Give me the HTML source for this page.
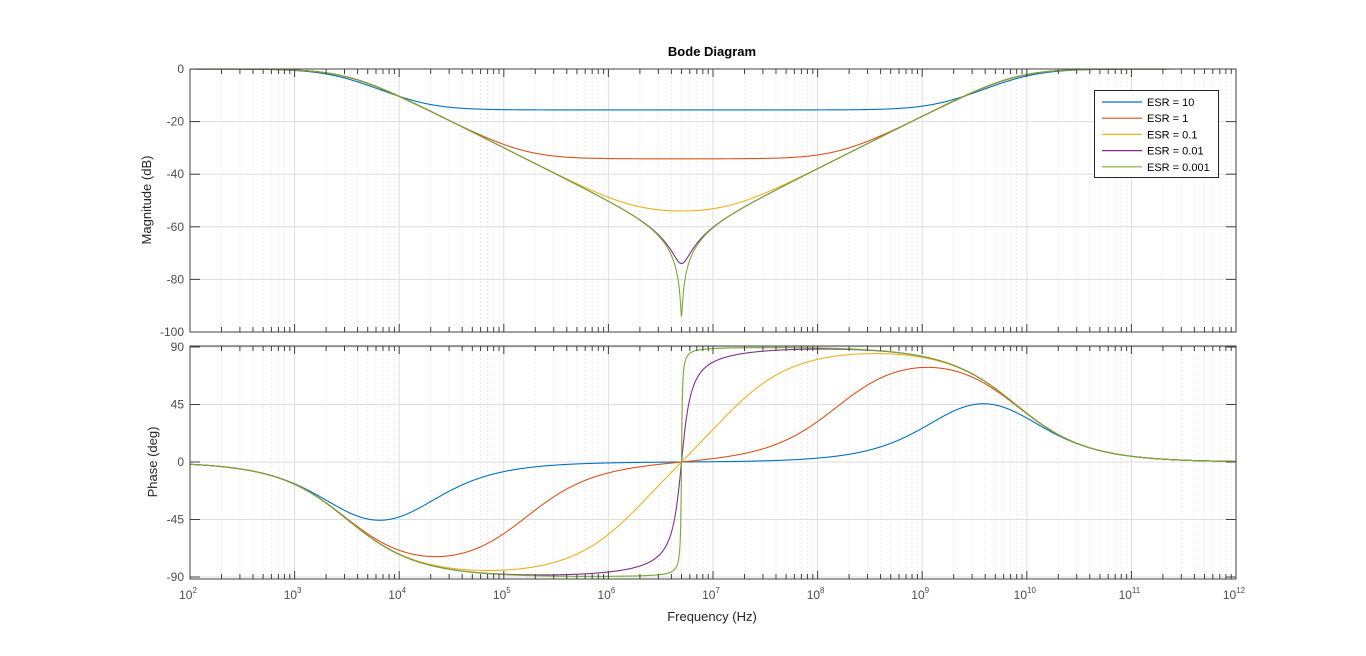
<!DOCTYPE html>
<html><head><meta charset="utf-8"><style>
body{margin:0;background:#fff}
svg text{font-family:"Liberation Sans",sans-serif}
</style></head><body>
<svg id="s" width="1366" height="651" xmlns="http://www.w3.org/2000/svg"></svg>
<script>
const s=document.getElementById('s');
const X0=190,X1=1236;
const fx=f=>X0+(Math.log10(f)-2)*(X1-X0)/10;
const A={top:69,bot:332}, B={top:346,bot:579};
const my=d=>69+(-d)*(332-69)/100;
const py=p=>347+(90-p)*(577-347)/180;
let h='';
function grid(ax,ylines){
  h+=`<rect x="${X0}" y="${ax.top}" width="${X1-X0}" height="${ax.bot-ax.top}" fill="#fff"/>`;
  for(let d=2;d<12;d++)for(let k=2;k<10;k++){const x=fx(k*10**d);
    h+=`<line x1="${x}" y1="${ax.top}" x2="${x}" y2="${ax.bot}" stroke="#ececec" stroke-dasharray="2,2"/>`;}
  for(let d=3;d<12;d++){const x=fx(10**d);h+=`<line x1="${x}" y1="${ax.top}" x2="${x}" y2="${ax.bot}" stroke="#dedede"/>`;}
  ylines.forEach(y=>h+=`<line x1="${X0}" y1="${y}" x2="${X1}" y2="${y}" stroke="#dedede"/>`);
}
function frame(ax,yt){
  h+=`<rect x="${X0}" y="${ax.top}" width="${X1-X0}" height="${ax.bot-ax.top}" fill="none" stroke="#404040" stroke-width="1"/>`;
  for(let d=2;d<=12;d++)for(let k=1;k<10;k++){if(d==12&&k>1)break;const x=fx(k*10**d),L=k==1?8:5;
    h+=`<line x1="${x}" y1="${ax.top}" x2="${x}" y2="${ax.top+L}" stroke="#404040"/><line x1="${x}" y1="${ax.bot}" x2="${x}" y2="${ax.bot-L}" stroke="#404040"/>`;}
  yt.forEach(([y,l])=>{h+=`<line x1="${X0}" y1="${y}" x2="${X0+10}" y2="${y}" stroke="#404040"/><line x1="${X1}" y1="${y}" x2="${X1-10}" y2="${y}" stroke="#404040"/><text x="${X0-6}" y="${y+4}" font-size="12" fill="#4d4d4d" text-anchor="end">${l}</text>`;});
}
const mt=[0,-20,-40,-60,-80,-100].map(d=>[my(d),d]);
const pt=[[90,90],[45,45],[0,0],[-45,-45],[-90,-90]].map(([p,l])=>[py(p),l]);
grid(A,mt.slice(1,5).map(a=>a[0]));
grid(B,pt.map(a=>a[0]));
const Rs=50,C=1e-6,L=1/((2*Math.PI*5e6)**2*1e-6);
const esr=[10,1,0.1,0.01,0.001],col=['#0072BD','#D95319','#EDB120','#7E2F8E','#77AC30'];
let fr=[];for(let i=0;i<=5000;i++)fr.push(10**(2+10*i/5000));
for(let i=0;i<=3000;i++)fr.push(5e6*10**((i-1500)/1500*0.3));
fr.sort((a,b)=>a-b);
esr.forEach((R,j)=>{let pm='',pp='';fr.forEach((f,i)=>{const w=2*Math.PI*f,im=w*L-1/(w*C);
  const m=Math.hypot(R,im)/Math.hypot(R+Rs,im);const ph=(Math.atan2(im,R)-Math.atan2(im,R+Rs))*180/Math.PI;
  const x=fx(f).toFixed(2);pm+=(i?'L':'M')+x+','+Math.min(my(20*Math.log10(m)),332).toFixed(2);pp+=(i?'L':'M')+x+','+py(ph).toFixed(2);});
  h+=`<path d="${pm}" fill="none" stroke="${col[j]}" stroke-width="1.1"/><path d="${pp}" fill="none" stroke="${col[j]}" stroke-width="1.1"/>`;});
frame(A,mt);frame(B,pt);
for(let d=2;d<=12;d++)h+=`<text x="${fx(10**d)-2}" y="599" font-size="12" fill="#4d4d4d" text-anchor="middle">10<tspan dy="-6" font-size="8">${d}</tspan></text>`;
h+=`<text x="712" y="56" font-size="13" font-weight="bold" fill="#000" text-anchor="middle">Bode Diagram</text>`;
h+=`<text x="712" y="621" font-size="13" fill="#262626" text-anchor="middle">Frequency  (Hz)</text>`;
h+=`<text transform="translate(151,200) rotate(-90)" font-size="13" fill="#262626" text-anchor="middle">Magnitude (dB)</text>`;
h+=`<text transform="translate(157,462) rotate(-90)" font-size="13" fill="#262626" text-anchor="middle">Phase (deg)</text>`;
h+=`<rect x="1094.5" y="90.5" width="124" height="87" fill="#fff" stroke="#262626"/>`;
esr.forEach((R,j)=>{const y=102+j*16.2;h+=`<line x1="1102" y1="${y}" x2="1142" y2="${y}" stroke="${col[j]}" stroke-width="1.2"/><text x="1147" y="${y+4}" font-size="11" fill="#000">ESR = ${R}</text>`;});
s.innerHTML=h;
</script>
</body></html>
